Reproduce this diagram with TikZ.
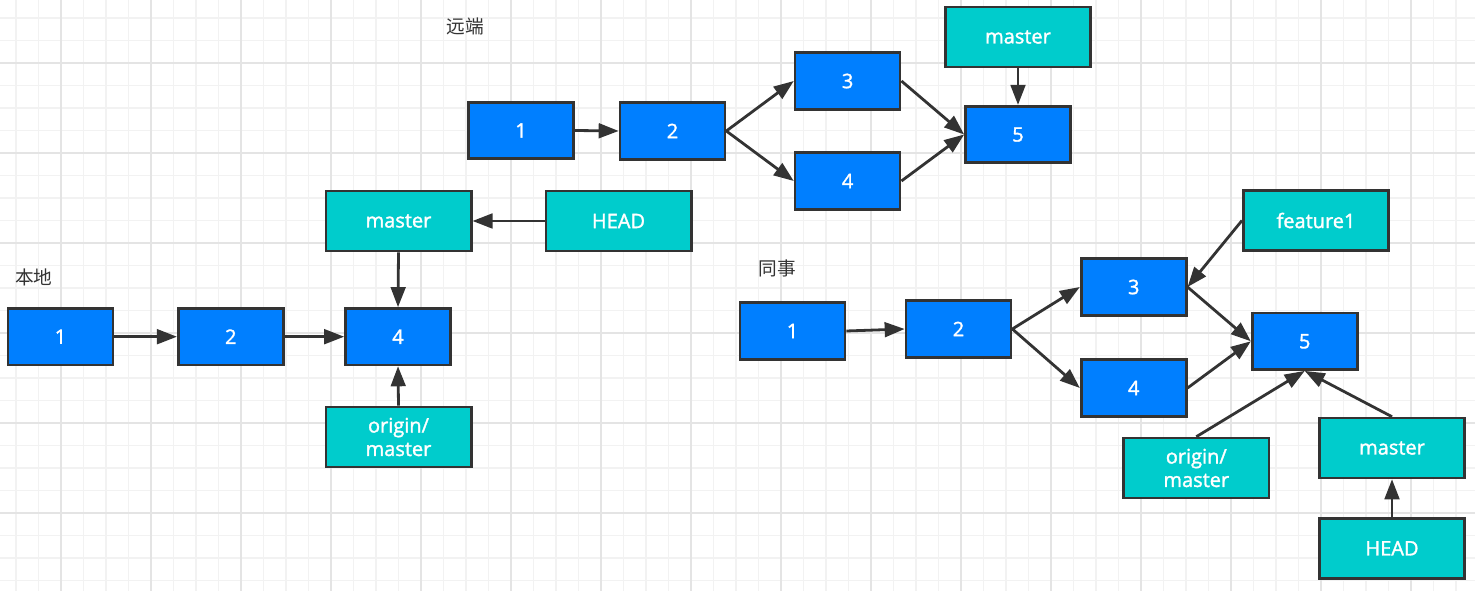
\documentclass[tikz,border=0pt]{standalone}
\usepackage{fontspec}
\setmainfont{Open Sans}
\newfontfamily\lab{Open Sans}[FakeBold=1.6]
\newfontfamily\cjk{Noto Sans CJK SC}
\usetikzlibrary{arrows.meta}
\definecolor{cblue}{HTML}{007FFF}
\definecolor{cteal}{HTML}{00CCCC}
\definecolor{cline}{HTML}{333333}
\definecolor{gminor}{HTML}{F2F2F2}
\definecolor{gmajor}{HTML}{E4E4E4}
\begin{document}
\begin{tikzpicture}[x=0.75pt,y=-0.75pt,
  commit/.style={draw=cline, line width=2pt, fill=cblue, text=white,
    minimum width=78.75pt, minimum height=42.4pt, inner sep=0pt,
    font=\lab\fontsize{15}{17.6}\selectfont},
  ref/.style={commit, fill=cteal, minimum width=109pt, minimum height=44.9pt, align=center},
  lbl/.style={text=cline, font=\cjk\fontsize{14}{16}\selectfont, inner sep=0pt},
  arr/.style={draw=cline, line width=2.1pt, -{Triangle[length=15pt,width=11pt]}}
]
\fill[white] (0,0) rectangle (1475,591);
\useasboundingbox (0,0) rectangle (1475,591);
% grid
\foreach \i in {0,...,64} \draw[gminor, line width=1.1pt] ({16+22.5*\i},0) -- ({16+22.5*\i},591);
\foreach \j in {0,...,25} \draw[gminor, line width=1.1pt] (0,{18+22.5*\j}) -- (1475,{18+22.5*\j});
\foreach \i in {0,...,15} \draw[gmajor, line width=1.1pt] ({61+90*\i},0) -- ({61+90*\i},591);
\foreach \j in {0,...,5} \draw[gmajor, line width=1.1pt] (0,{63+90*\j}) -- (1475,{63+90*\j});

% remote
\node[lbl] (lblR) at (465,26) {远端};
\node[commit] (r1) at (521,130.5) {1};
\node[commit] (r2) at (672.5,131) {2};
\node[commit] (r3) at (847.6,81) {3};
\node[commit] (r4) at (847.6,181) {4};
\node[commit] (r5) at (1018,134.5) {5};
\node[ref] (rm) at (1018,37) {master};
\draw[arr] (r1.east) -- (r2.west);
\draw[arr] (r2.east) -- (r3.west);
\draw[arr] (r2.east) -- (r4.west);
\draw[arr] (r3.east) -- (r5.west);
\draw[arr] (r4.east) -- (r5.west);
\draw[arr] (rm.south) -- (r5.north);

% local
\node[lbl] (lblL) at (34,277) {本地};
\node[commit] (l1) at (60.5,336.7) {1};
\node[commit] (l2) at (230.8,336.7) {2};
\node[commit] (l4) at (398,336.7) {4};
\node[ref] (lm) at (398.5,221) {master};
\node[ref] (lo) at (398.5,437) {origin/\\master};
\node[ref] (lh) at (618.5,221) {HEAD};
\draw[arr] (l1.east) -- (l2.west);
\draw[arr] (l2.east) -- (l4.west);
\draw[arr] (lm.south) -- (l4.north);
\draw[arr] (lo.north) -- (l4.south);
\draw[arr] (lh.west) -- (lm.east);

% colleague
\node[lbl] (lblC) at (777.5,268.5) {同事};
\node[commit] (c1) at (792.5,331) {1};
\node[commit] (c2) at (958.5,329) {2};
\node[commit] (c3) at (1133.7,287) {3};
\node[commit] (c4) at (1133.7,388) {4};
\node[commit] (c5) at (1304.7,341.3) {5};
\node[ref] (cf) at (1316,220.5) {feature1};
\node[ref] (co) at (1196.3,468) {origin/\\master};
\node[ref] (cm) at (1392,448) {master};
\node[ref] (ch) at (1392,548.3) {HEAD};
\draw[arr] (c1.east) -- (c2.west);
\draw[arr] (c2.east) -- (c3.west);
\draw[arr] (c2.east) -- (c4.west);
\draw[arr] (c3.east) -- (c5.west);
\draw[arr] (c4.east) -- (c5.west);
\draw[arr] (cf.west) -- (c3.east);
\draw[arr] (co.north) -- (c5.south);
\draw[arr] (cm.north) -- (c5.south);
\draw[arr] (ch.north) -- (cm.south);
\end{tikzpicture}
\end{document}
